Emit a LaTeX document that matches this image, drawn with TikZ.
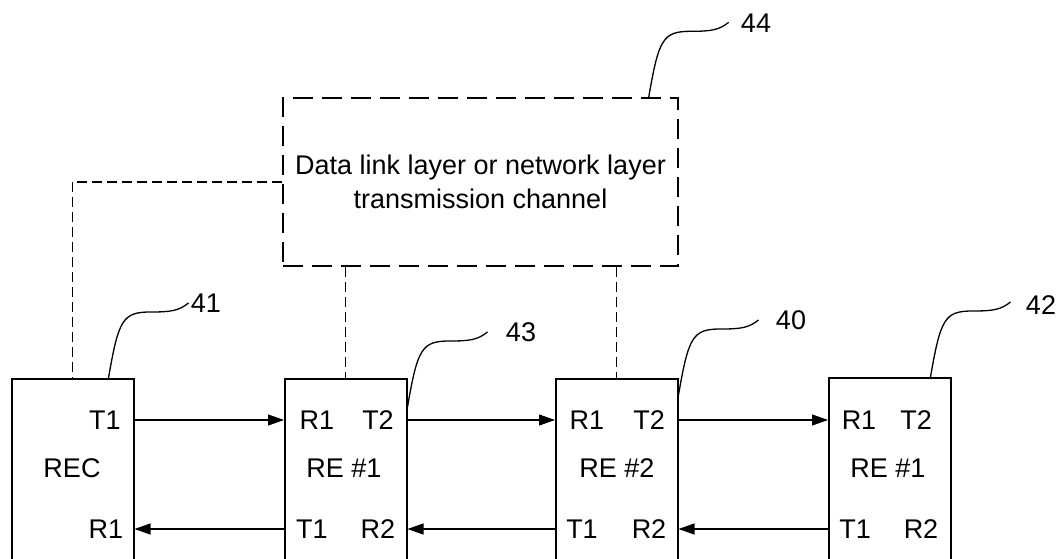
\documentclass[tikz,border=0pt]{standalone}
\usepackage{fontspec}
\setmainfont{Liberation Sans}
\usetikzlibrary{arrows.meta}
\begin{document}
\begin{tikzpicture}[x=1pt,y=-1pt,
  box/.style={draw, line width=1.5pt, minimum width=122pt, minimum height=220pt, anchor=north west, inner sep=0pt},
  lbl/.style={font=\fontsize{27}{34}\selectfont, inner sep=0pt},
  conn/.style={line width=1.1pt, -{Triangle[length=16pt,width=11pt]}},
  dlink/.style={line width=1.4pt, dash pattern=on 10pt off 5pt},
  chbox/.style={draw, line width=1.4pt, dash pattern=on 20pt off 9pt, minimum width=395pt, minimum height=168pt, align=center},
  leader/.style={line width=1.3pt},
]
\useasboundingbox (0,0) rectangle (1060,559);
\clip (0,0) rectangle (1060,559);

% boxes
\node[box] (rec) at (11,378) {};
\node[box] (re1) at (284,378) {};
\node[box] (re2) at (555,378) {};
\node[box] (re3) at (828,377) {};

% labels inside boxes
\node[lbl] (rect1) at (105,420) {T1};
\node[lbl] (recname) at (72,468) {REC};
\node[lbl] (recr1) at (106,529) {R1};

\node[lbl] (re1r1) at (317,420) {R1};
\node[lbl] (re1t2) at (378,420) {T2};
\node[lbl] (re1name) at (344,468) {RE \#1};
\node[lbl] (re1t1) at (312,529) {T1};
\node[lbl] (re1r2) at (378,529) {R2};

\node[lbl] (re2r1) at (587,420) {R1};
\node[lbl] (re2t2) at (649,420) {T2};
\node[lbl] (re2name) at (617,468) {RE \#2};
\node[lbl] (re2t1) at (582,529) {T1};
\node[lbl] (re2r2) at (649,529) {R2};

\node[lbl] (re3r1) at (859,420) {R1};
\node[lbl] (re3t2) at (916,420) {T2};
\node[lbl] (re3name) at (888,468) {RE \#1};
\node[lbl] (re3t1) at (855,529) {T1};
\node[lbl] (re3r2) at (921,529) {R2};

% channel box
\node[chbox, lbl] (ch) at (480.5,182) {Data link layer or network layer\\transmission channel};

% arrows
\draw[conn] (rec.east |- rect1) -- (re1.west |- rect1);
\draw[conn] (re1.east |- re1t2) -- (re2.west |- re1t2);
\draw[conn] (re2.east |- re2t2) -- (re3.west |- re2t2);
\draw[conn] (re1.west |- re1t1) -- (rec.east |- re1t1);
\draw[conn] (re2.west |- re2t1) -- (re1.east |- re2t1);
\draw[conn] (re3.west |- re3t1) -- (re2.east |- re3t1);

% dashed links
\draw[dlink] (ch.west) -| (rec.north);
\draw[dlink] (ch.south -| re1.north) -- (re1.north);
\draw[dlink] (ch.south -| re2.north) -- (re2.north);

% leader labels
\node[lbl] (n44) at (756,23) {44};
\node[lbl] (n41) at (206,303) {41};
\node[lbl] (n43) at (521,332) {43};
\node[lbl] (n40) at (791,320) {40};
\node[lbl] (n42) at (1041,305) {42};

\coordinate (l44) at ([xshift=-30pt]ch.north east);
\coordinate (l41) at ([xshift=-26pt]rec.north east);
\coordinate (l43) at ([yshift=-29pt]re1.north east);
\coordinate (l40) at ([yshift=-17pt]re2.north east);
\coordinate (l42) at ([xshift=-21pt]re3.north east);

\foreach \s in {l44,l41,l43,l40,l42}{
  \draw[leader] (\s) .. controls +(10,-58) and +(-28,0) .. ++(42,-66)
    .. controls +(20,0) and +(-10,8) .. ++(38,-9);
}
\end{tikzpicture}
\end{document}
